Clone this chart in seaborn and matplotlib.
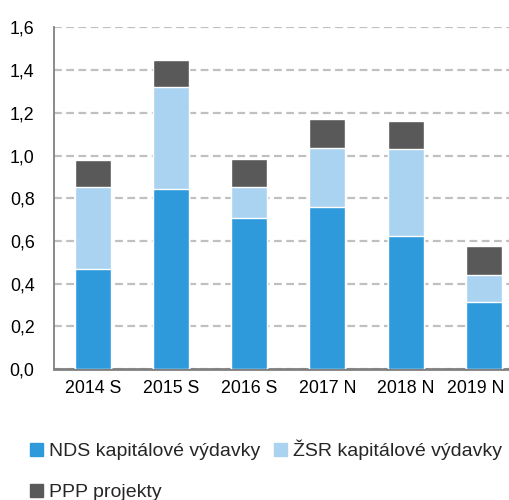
import pandas as pd
import matplotlib.pyplot as plt
import matplotlib.transforms as mtransforms
import seaborn as sns
from matplotlib.patches import Patch

# hodnoty odčítané z grafu
roky = ['2014 S', '2015 S', '2016 S', '2017 N', '2018 N', '2019 N']
nds = [0.470, 0.845, 0.709, 0.758, 0.624, 0.314]
zsr = [0.383, 0.474, 0.144, 0.277, 0.406, 0.128]
ppp = [0.124, 0.128, 0.130, 0.137, 0.134, 0.135]

farby = {'nds': '#2e9adb', 'zsr': '#aad3f2', 'ppp': '#595959'}

df = pd.DataFrame({'rok': roky, 'nds': nds, 'zsr': zsr, 'ppp': ppp})
df['nds_zsr'] = df['nds'] + df['zsr']
df['spolu'] = df['nds_zsr'] + df['ppp']

sns.set_style('white')
plt.rcParams['font.family'] = ['Liberation Sans', 'DejaVu Sans']

fig = plt.figure(figsize=(5.1, 5.0), dpi=100)
ax = fig.add_axes([0.106, 0.262, 0.919, 0.683])

w = 0.46
sns.barplot(data=df, x='rok', y='spolu', color=farby['ppp'], width=w, ax=ax,
            saturation=1, zorder=3)
sns.barplot(data=df, x='rok', y='nds_zsr', color=farby['zsr'], width=w, ax=ax,
            saturation=1, zorder=3)
sns.barplot(data=df, x='rok', y='nds', color=farby['nds'], width=w, ax=ax,
            saturation=1, zorder=3)

ax.set_ylim(0, 1.6)
ax.set_yticks([0, 0.2, 0.4, 0.6, 0.8, 1.0, 1.2, 1.4, 1.6])
ax.set_yticklabels([f'{v:.1f}'.replace('.', ',') for v in ax.get_yticks()])
ax.set_xlabel('')
ax.set_ylabel('')
ax.yaxis.grid(True, color='#c0c0c0', linestyle=(0, (3.5, 2)), linewidth=1.6, zorder=0)
ax.set_axisbelow(True)
ax.tick_params(axis='both', length=0, labelsize=12.8, colors='black')
ax.tick_params(axis='x', pad=8)
ax.tick_params(axis='y', pad=14)

# posledný popis trochu doľava, aby sa zmestil
posun = mtransforms.ScaledTranslation(-6 / 72, 0, fig.dpi_scale_trans)
lab = ax.get_xticklabels()[-1]
lab.set_transform(lab.get_transform() + posun)

for s in ['top', 'right']:
    ax.spines[s].set_visible(False)
ax.spines['left'].set_color('#808080')
ax.spines['left'].set_linewidth(1.3)
ax.spines['bottom'].set_color('#808080')
ax.spines['bottom'].set_linewidth(2)

handles = [Patch(color=farby['nds'], label='NDS kapitálové výdavky'),
           Patch(color=farby['ppp'], label='PPP projekty'),
           Patch(color=farby['zsr'], label='ŽSR kapitálové výdavky')]
fig.legend(handles=handles, ncol=2, loc='upper left', bbox_to_anchor=(0.04, 0.14),
           frameon=False, fontsize=14, handlelength=0.65, handleheight=0.65,
           handletextpad=0.3, columnspacing=0.75, labelspacing=1.2, borderpad=0)

fig.savefig('out.png', dpi=100)
